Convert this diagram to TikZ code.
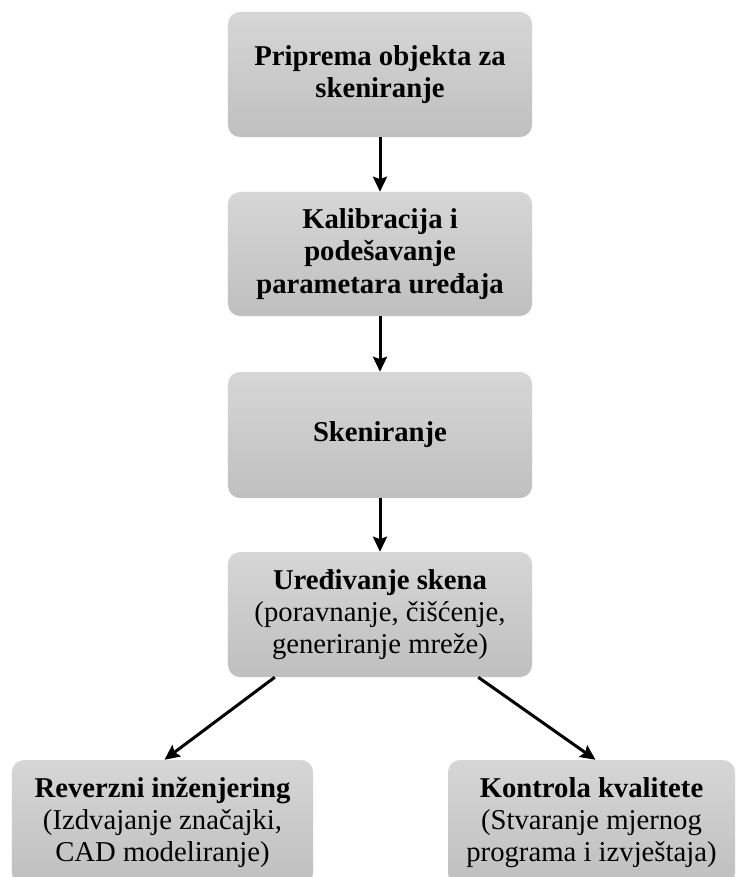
\documentclass[tikz,border=0pt]{standalone}
\usepackage{fontspec}
\setmainfont{Liberation Serif}
\usetikzlibrary{arrows.meta,calc}
\tikzset{
	korak/.style={rounded corners=0.36cm, top color=black!16, bottom color=black!25, draw=none,
		align=center, inner sep=4pt, font=\fontsize{24.5}{27.5}\selectfont},
	strelica/.style={line width=0.09cm, -{Stealth[length=0.45cm, width=0.42cm, inset=0.07cm]}}
}

\begin{document}
\begin{tikzpicture}[x=0.03cm, y=-0.03cm]
			%%%%% START %%%%%
			
			\useasboundingbox (0, 0) rectangle (737, 877);
			\clip (0, 0) rectangle (737, 877);
			\fill[white] (0, 0) rectangle (737, 877);
			
			\node[korak, minimum width=9.12cm, minimum height=3.75cm] (priprema) at (380, 74.5)
				{\textbf{Priprema objekta za}\\\textbf{skeniranje}};
			\node[korak, minimum width=9.12cm, minimum height=3.72cm] (kalibracija) at (380, 254)
				{\textbf{Kalibracija i}\\\textbf{podešavanje}\\\textbf{parametara uređaja}};
			\node[korak, minimum width=9.12cm, minimum height=3.78cm] (skeniranje) at (380, 435)
				{\textbf{Skeniranje}};
			\node[korak, minimum width=9.12cm, minimum height=3.75cm] (uredjivanje) at (380, 614.5)
				{\textbf{Uređivanje skena}\\(poravnanje, čišćenje,\\generiranje mreže)};
			
			\node[korak, minimum width=9.03cm, minimum height=3.75cm] (reverzni) at (162.5, 822.5)
				{\textbf{Reverzni inženjering}\\(Izdvajanje značajki,\\CAD modeliranje)};
			\node[korak, minimum width=8.61cm, minimum height=3.75cm] (kontrola) at (591.5, 822.5)
				{\textbf{Kontrola kvalitete}\\(Stvaranje mjernog\\programa i izvještaja)};
			
			\draw[strelica] (priprema) -- (kalibracija);
			\draw[strelica] (kalibracija) -- (skeniranje);
			\draw[strelica] (skeniranje) -- (uredjivanje);
			
			\draw[strelica] ([xshift=1.41cm]uredjivanje.south west) -- ([xshift=0.06cm]reverzni.north);
			\draw[strelica] ([xshift=-1.62cm]uredjivanje.south east) -- ([xshift=0.12cm]kontrola.north);
			
			%%%%% END %%%%%
		\end{tikzpicture}
\end{document}
